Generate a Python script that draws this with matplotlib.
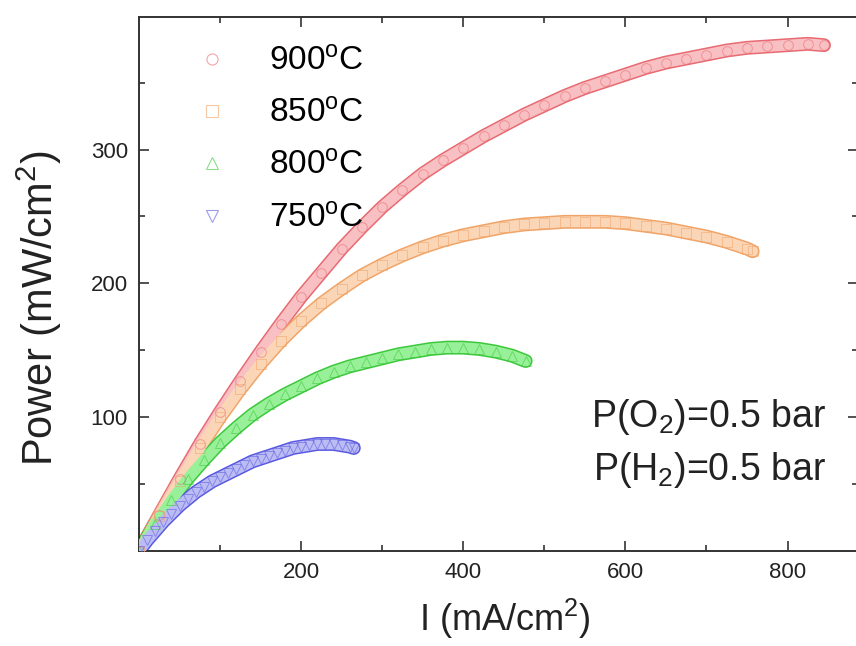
import matplotlib
matplotlib.use("Agg")
import matplotlib.pyplot as plt
from matplotlib.lines import Line2D

plt.rcParams['font.family'] = ['Liberation Sans', 'DejaVu Sans']
plt.rcParams['mathtext.fontset'] = 'custom'
plt.rcParams['mathtext.rm'] = 'Liberation Sans'
plt.rcParams['mathtext.it'] = 'Liberation Sans'

# Power density vs current density at four cell temperatures
i_900 = [0, 25, 50, 75, 100, 125, 150, 175, 200, 225, 250, 275, 300, 325, 350, 375,
         400, 425, 450, 475, 500, 525, 550, 575, 600, 625, 650, 675, 700, 725, 750,
         775, 800, 825, 845]
p_900 = [0, 27, 54, 80, 104, 127, 149, 170, 190, 208, 226, 242, 257, 270, 282, 292,
         301, 310, 318, 326, 333, 340, 346, 351, 356, 361, 365, 368, 371, 374, 376,
         377, 378, 379, 378]

i_850 = [0, 25, 50, 75, 100, 125, 150, 175, 200, 225, 250, 275, 300, 325, 350, 375,
         400, 425, 450, 475, 500, 525, 550, 575, 600, 625, 650, 675, 700, 725, 750, 757]
p_850 = [0, 26, 52, 77, 100, 121, 140, 157, 172, 185, 196, 206, 214, 221, 227, 232,
         236, 239, 242, 244, 245, 246, 246, 246, 245, 243, 241, 238, 235, 231, 226, 224]

i_800 = [0, 20, 40, 60, 80, 100, 120, 140, 160, 180, 200, 220, 240, 260, 280, 300,
         320, 340, 360, 380, 400, 420, 440, 460, 477]
p_800 = [0, 20, 38, 54, 68, 81, 92, 102, 110, 117, 123, 129, 134, 138, 141, 144,
         147, 149, 151, 152, 152, 151, 149, 146, 142]

i_750 = [0, 10, 20, 30, 40, 50, 60, 70, 80, 90, 100, 110, 120, 130, 140, 150, 160,
         170, 180, 190, 200, 210, 220, 230, 240, 250, 260, 265]
p_750 = [0, 8, 15, 22, 28, 34, 39, 44, 48, 52, 55, 58, 61, 64, 67, 69, 71, 73, 75,
         77, 78, 79, 80, 80, 80, 79, 78, 77]

labels = ['900$^{\\rm o}$C', '850$^{\\rm o}$C', '800$^{\\rm o}$C', '750$^{\\rm o}$C']
markers = ['o', 's', '^', 'v']
edge_colors = ['#e86a72', '#f0a468', '#3cc83c', '#5a5ae0']
fill_colors = ['#f8c0c2', '#fbd6b6', '#98f098', '#bcbcf4']
series = [(i_900, p_900), (i_850, p_850), (i_800, p_800), (i_750, p_750)]

fig = plt.figure(figsize=(8.56, 6.46), dpi=100)
ax = fig.add_axes([0.1624, 0.147, 0.840, 0.8266])

for (cur, pw), mk, ec, fc in zip(series, markers, edge_colors, fill_colors):
    ax.plot(cur, pw, color=ec, lw=10.0, solid_capstyle='round', zorder=2)
    ax.plot(cur, pw, color=fc, lw=7.8, solid_capstyle='round', zorder=3)
    ax.plot(cur, pw, ls='none', marker=mk, ms=7, mfc='none', mec=ec, mew=0.7,
            alpha=0.55, zorder=4)

ax.set_xlim(0, 887)
ax.set_ylim(0, 399)
ax.set_xticks([200, 400, 600, 800])
ax.set_xticks([100, 300, 500, 700], minor=True)
ax.set_yticks([100, 200, 300])
ax.set_yticks([50, 150, 250, 350], minor=True)
ax.tick_params(which='both', direction='in', top=True, right=True, colors='#333333',
               labelcolor='#222222', width=1.2)
ax.tick_params(which='major', length=7, labelsize=16, pad=8)
ax.tick_params(which='minor', length=4)
for sp in ax.spines.values():
    sp.set_color('#333333')
    sp.set_linewidth(1.4)

ax.set_xlabel('I (mA/cm$^2$)', fontsize=26, color='#222222')
ax.xaxis.set_label_coords(0.509, -0.085, transform=ax.transAxes)
ax.xaxis.label.set_va('top')
ax.set_ylabel('Power (mW/cm$^2$)', fontsize=30, color='#222222')
ax.yaxis.set_label_coords(-0.104, 0.455, transform=ax.transAxes)

handles = [Line2D([], [], ls='none', marker=mk, ms=8, mfc='none', mec=ec, mew=0.8,
                  alpha=0.6) for mk, ec in zip(markers, edge_colors)]
ax.legend(handles, labels, loc='upper left', bbox_to_anchor=(0.06, 0.970),
          frameon=False, fontsize=24, handlelength=1.0, handletextpad=1.2,
          labelspacing=0.64, borderaxespad=0)

ax.text(0.955, 0.251, 'P(O$_2$)=0.5 bar', transform=ax.transAxes, ha='right',
        va='center', fontsize=27, color='#222222')
ax.text(0.955, 0.152, 'P(H$_2$)=0.5 bar', transform=ax.transAxes, ha='right',
        va='center', fontsize=27, color='#222222')

fig.savefig('out.png', dpi=100)
